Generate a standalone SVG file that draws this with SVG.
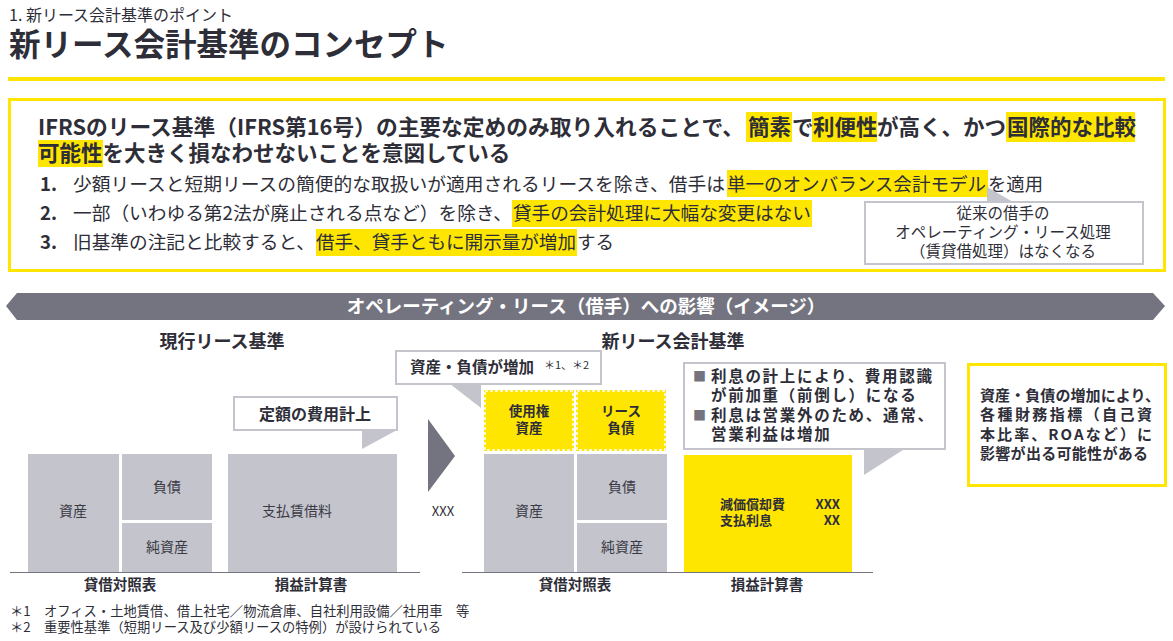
<svg xmlns="http://www.w3.org/2000/svg" width="1173" height="641" viewBox="0 0 1173 641">
<style>
text{font-family:"Noto Sans CJK JP","Noto Sans",sans-serif;fill:#2e2e38}
.b{font-weight:bold}
.hl{fill:#ffe600}
.gbox{fill:#c4c4cd}
.cbox{fill:#fff;stroke:#c4c4cd;stroke-width:2}
.ptr{fill:#c4c4cd}
.dk{fill:#747480}
.it{font-size:18.6px}
.cell{font-size:14px;fill:#3a3a44}
.c{text-anchor:middle}
.ybox{fill:#ffe600}
.ydash{fill:none;stroke:#fff;stroke-width:1.5;stroke-dasharray:3 2}
</style>
<rect width="1173" height="641" fill="#fff"/>

<g id="title">
<text x="9" y="21" font-size="16">1. 新リース会計基準のポイント</text>
<text x="9" y="56" font-size="31.5" class="b">新リース会計基準のコンセプト</text>
<rect x="8" y="77" width="1157" height="4" fill="#ffe600"/>
</g>

<g id="concept-box">
<rect x="9.5" y="99.5" width="1155" height="171" fill="none" stroke="#ffe600" stroke-width="3"/>
<rect class="hl" x="746" y="112" width="46" height="30"/>
<rect class="hl" x="812" y="112" width="65" height="30"/>
<rect class="hl" x="1006" y="112" width="129" height="30"/>
<rect class="hl" x="38" y="140" width="65" height="27"/>
<rect class="hl" x="727" y="170" width="261" height="27"/>
<rect class="hl" x="512" y="200" width="300" height="27"/>
<rect class="hl" x="316" y="229" width="261" height="27"/>
<g class="b" font-size="21.5">
<text x="38" y="135" textLength="706" lengthAdjust="spacingAndGlyphs">IFRSのリース基準（IFRS第16号）の主要な定めのみ取り入れることで、</text>
<text x="748" y="135">簡素</text>
<text x="792" y="135">で</text>
<text x="813" y="135">利便性</text>
<text x="877" y="135">が高く、かつ</text>
<text x="1007" y="135">国際的な比較</text>
<text x="38" y="161">可能性を大きく損なわせないことを意図している</text>
</g>
<g class="it">
<text x="40" y="191" class="b">1.</text>
<text x="40" y="220" class="b">2.</text>
<text x="40" y="249" class="b">3.</text>
<text x="73" y="191" textLength="652" lengthAdjust="spacingAndGlyphs">少額リースと短期リースの簡便的な取扱いが適用されるリースを除き、借手は</text>
<text x="727" y="191" textLength="259" lengthAdjust="spacingAndGlyphs">単一のオンバランス会計モデル</text>
<text x="988" y="191" textLength="55" lengthAdjust="spacingAndGlyphs">を適用</text>
<text x="73" y="220" textLength="439" lengthAdjust="spacingAndGlyphs">一部（いわゆる第2法が廃止される点など）を除き、</text>
<text x="513" y="220" textLength="298" lengthAdjust="spacingAndGlyphs">貸手の会計処理に大幅な変更はない</text>
<text x="73" y="249" textLength="242" lengthAdjust="spacingAndGlyphs">旧基準の注記と比較すると、</text>
<text x="316" y="249" textLength="260" lengthAdjust="spacingAndGlyphs">借手、貸手ともに開示量が増加</text>
<text x="577" y="249" textLength="37" lengthAdjust="spacingAndGlyphs">する</text>
</g>
</g>

<g id="callout-conventional">
<polygon class="ptr" points="987,187 987,202 1013,202"/>
<rect class="cbox" x="865" y="202" width="278" height="62"/>
<g font-size="15.5" class="c">
<text x="1003" y="219">従来の借手の</text>
<text x="1003" y="238">オペレーティング・リース処理</text>
<text x="1003" y="257">（賃貸借処理）はなくなる</text>
</g>
</g>

<g id="banner">
<polygon class="dk" points="6,306 17,293 1153,293 1165,306 1153,320 17,320"/>
<text x="586" y="313" class="b c" font-size="18.5" style="fill:#fff">オペレーティング・リース（借手）への影響（イメージ）</text>
</g>

<g id="current-standard">
<text x="222" y="348" class="b c" font-size="18">現行リース基準</text>
<polygon class="ptr" points="362,430 397,430 362,449"/>
<rect class="cbox" x="234" y="397" width="163" height="33"/>
<text x="315" y="420" class="b c" font-size="16">定額の費用計上</text>
<rect class="gbox" x="28" y="454" width="91" height="118"/>
<rect class="gbox" x="122" y="454" width="90" height="66"/>
<rect class="gbox" x="122" y="523" width="90" height="49"/>
<rect class="gbox" x="228" y="454" width="169" height="118"/>
<text x="73" y="516" class="cell c">資産</text>
<text x="167" y="492" class="cell c">負債</text>
<text x="167" y="552" class="cell c">純資産</text>
<text x="297" y="516" class="cell c">支払賃借料</text>
<text x="120" y="590" class="b c" font-size="14.5">貸借対照表</text>
<text x="311" y="590" class="b c" font-size="14.5">損益計算書</text>
</g>

<g id="new-standard">
<text x="673" y="348" class="b c" font-size="18">新リース会計基準</text>
<polygon class="ptr" points="450,384 481,384 481,408"/>
<rect class="cbox" x="396" y="351" width="205" height="33"/>
<text x="410" y="373" class="b" font-size="15.5">資産・負債が増加</text>
<text x="544" y="369" font-size="11">＊1、＊2</text>
<rect class="ybox" x="484" y="390" width="90" height="61"/>
<rect class="ydash" x="485" y="391" width="88" height="59"/>
<rect class="ybox" x="576" y="390" width="90" height="61"/>
<rect class="ydash" x="577" y="391" width="88" height="59"/>
<g class="b c" font-size="13.5">
<text x="529" y="416">使用権</text>
<text x="529" y="433">資産</text>
<text x="621" y="416">リース</text>
<text x="621" y="433">負債</text>
</g>
<rect class="gbox" x="484" y="454" width="90" height="118"/>
<rect class="gbox" x="577" y="454" width="90" height="66"/>
<rect class="gbox" x="577" y="523" width="90" height="49"/>
<text x="529" y="516" class="cell c">資産</text>
<text x="622" y="492" class="cell c">負債</text>
<text x="622" y="552" class="cell c">純資産</text>
<rect class="ybox" x="684" y="455" width="168" height="117"/>
<g class="b" font-size="13">
<text x="720" y="509">減価償却費</text>
<text x="720" y="525">支払利息</text>
<text x="840" y="509" text-anchor="end">XXX</text>
<text x="840" y="525" text-anchor="end">XX</text>
</g>
<text x="575" y="590" class="b c" font-size="14.5">貸借対照表</text>
<text x="767" y="590" class="b c" font-size="14.5">損益計算書</text>
</g>

<g id="interest-callout">
<polygon class="ptr" points="864,448 906,448 864,475"/>
<rect class="cbox" x="684" y="363" width="261" height="86"/>
<text x="693" y="381" class="dk" font-size="13">■</text>
<text x="693" y="420" class="dk" font-size="13">■</text>
<g class="b" font-size="15.5" letter-spacing="1.7">
<text x="711" y="382">利息の計上により、費用認識</text>
<text x="711" y="401">が前加重（前倒し）になる</text>
<text x="711" y="421">利息は営業外のため、通常、</text>
<text x="711" y="440">営業利益は増加</text>
</g>
</g>

<g id="impact-box">
<rect x="968.5" y="364.5" width="197" height="121" fill="#fff" stroke="#ffe600" stroke-width="3"/>
<g class="b" font-size="15">
<text x="980" y="401" textLength="180">資産・負債の増加により、</text>
<text x="980" y="420" textLength="172">各種財務指標（自己資</text>
<text x="980" y="440" textLength="172">本比率、ROAなど）に</text>
<text x="980" y="459" textLength="168">影響が出る可能性がある</text>
</g>
</g>

<g id="connectors">
<polygon class="dk" points="428,419 455,456 428,492"/>
<line x1="10" y1="572.5" x2="420" y2="572.5" stroke="#747480" stroke-width="1"/>
<line x1="462" y1="572.5" x2="873" y2="572.5" stroke="#747480" stroke-width="1"/>
</g>

<text x="443" y="516" class="c" font-size="13">XXX</text>

<g id="footnotes" font-size="13.3">
<text x="10" y="616">＊1　オフィス・土地賃借、借上社宅／物流倉庫、自社利用設備／社用車　等</text>
<text x="10" y="632">＊2　重要性基準（短期リース及び少額リースの特例）が設けられている</text>
</g>
</svg>
